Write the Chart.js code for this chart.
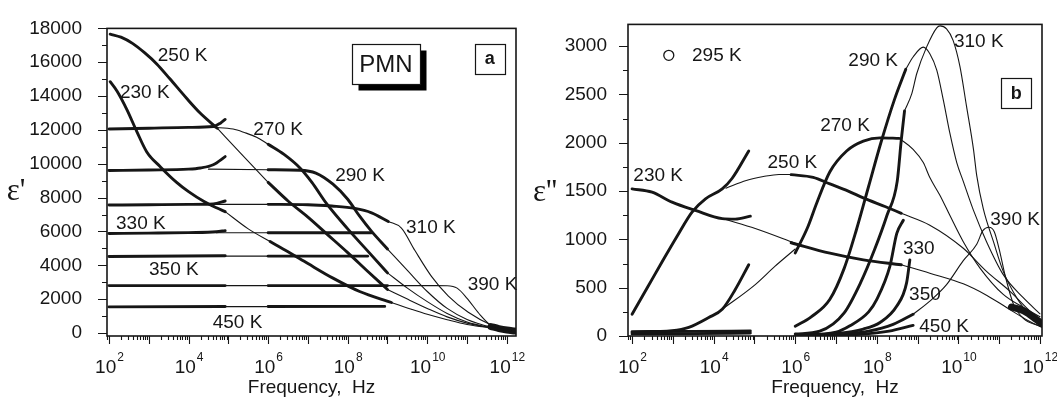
<!DOCTYPE html>
<html>
<head>
<meta charset="utf-8">
<title>PMN dielectric spectra</title>
<script src="https://cdn.jsdelivr.net/npm/chart.js@4.4.1/dist/chart.umd.min.js"></script>
<style>
html, body { margin: 0; padding: 0; background: #fff; }
#wrap { position: relative; width: 1057px; height: 400px; }
#chartA { position: absolute; left: 0; top: 0; }
#chartB { position: absolute; left: 530px; top: 0; }
</style>
</head>
<body>
<div id="wrap">
    <canvas id="chartA" width="530" height="400"></canvas>
    <canvas id="chartB" width="527" height="400"></canvas>
</div>
<script>
// Points are [log10(frequency / Hz), value]

// ---- Panel a : eps' ----
var epsA_230_lf = [[2.03,14850],[2.2,14300],[2.45,13200],[2.7,11900],[2.95,10700],[3.3,9800],[3.7,8900],[4.0,8350],[4.4,7750],[4.7,7400],[4.92,7170]];
var fitA_230_gap = [[4.92,7170],[5.5,6150],[6.05,5400]];
var epsA_230_mf = [[6.05,5400],[6.5,4800],[7.0,4100],[7.63,3240],[8.3,2450],[9.1,1800]];
var fitA_230_hf = [[9.1,1800],[9.6,1400],[10.0,1100],[10.5,780],[11.0,500],[11.7,270],[12.1,130]];

var epsA_250_lf = [[2.03,17660],[2.3,17480],[2.6,17100],[2.9,16550],[3.2,15900],[3.53,15020],[3.95,13870],[4.29,13000],[4.72,12100]];
var fitA_250_gap = [[4.72,12100],[5.3,10650],[6.0,8900]];
var epsA_250_mf = [[6.0,8900],[6.5,7800],[7.0,6850],[7.5,5800],[8.0,4750],[8.5,3650],[9.0,2570]];
var fitA_250_hf = [[9.0,2570],[9.5,2000],[10.0,1450],[10.5,950],[11.0,580],[11.6,300],[12.1,130]];

var epsA_270_lf = [[2.0,12050],[3.0,12100],[4.0,12150],[4.62,12200],[4.8,12400],[4.92,12620]];
var fitA_270_gap = [[4.62,12150],[5.12,12050],[5.4,11850],[5.71,11570],[6.0,11150]];
var epsA_270_mf = [[6.0,11150],[6.4,10550],[6.8,9750],[7.1,8900],[7.47,7640],[8.0,6150],[8.5,4850],[9.0,3550]];
var fitA_270_hf = [[9.0,3550],[9.5,2650],[10.0,1850],[10.5,1150],[11.0,650],[11.6,320],[12.1,130]];

var epsA_290_lf = [[2.0,9600],[3.0,9630],[4.0,9680],[4.3,9750],[4.62,9940],[4.92,10420]];
var fitA_290_gap = [[4.5,9680],[6.0,9650]];
var epsA_290_mf = [[6.0,9650],[6.8,9620],[7.2,9450],[7.63,8790],[8.0,7900],[8.3,6900],[8.6,6000],[9.0,4960]];
var fitA_290_hf = [[9.0,4960],[9.5,3700],[10.0,2450],[10.5,1450],[11.0,800],[11.6,350],[12.1,130]];

var epsA_310_lf = [[2.0,7560],[3.0,7580],[4.0,7600],[4.62,7620],[4.92,7800]];
var fitA_310_gap = [[4.6,7600],[6.0,7600]];
var epsA_310_mf = [[6.0,7600],[7.0,7580],[7.6,7500],[8.18,7360],[8.6,7100],[9.02,6590]];
var fitA_310_hf = [[9.02,6590],[9.35,6200],[9.69,4870],[10.11,3330],[10.53,2180],[11.03,1220],[11.62,460],[12.1,150]];

var epsA_330_lf = [[2.0,5880],[3.0,5900],[4.0,5930],[4.7,5980],[4.92,6050]];
var fitA_330_gap = [[4.7,5920],[6.0,5920]];
var epsA_330_mf = [[6.0,5920],[8.6,5920]];

var epsA_350_lf = [[2.0,4520],[4.92,4560]];
var fitA_350_gap = [[4.92,4540],[6.0,4540]];
var epsA_350_mf = [[6.0,4540],[8.5,4540]];

var epsA_390_lf = [[2.0,2800],[4.92,2800]];
var fitA_390_gap = [[4.92,2800],[6.0,2800]];
var epsA_390_mf = [[6.0,2800],[9.0,2800]];
var fitA_390_hf = [[9.0,2800],[10.2,2800],[10.5,2790],[10.75,2650],[11.0,2050],[11.3,1150],[11.6,450],[12.1,120]];

var epsA_450_lf = [[2.0,1540],[4.92,1560]];
var fitA_450_gap = [[4.92,1555],[6.0,1555]];
var epsA_450_mf = [[6.0,1560],[8.93,1570]];

var epsA_thz = [[11.6,380],[11.8,260],[12.0,170],[12.2,110]];

// ---- Panel b : eps'' ----
var epsB_230_lf = [[2.0,1523],[2.49,1488],[2.98,1385],[3.55,1300],[4.21,1215],[4.53,1210],[4.9,1240]];
var fitB_230_gap = [[4.3,1205],[5.02,1113],[6.0,960]];
var epsB_230_mf = [[5.9,965],[6.85,857],[7.67,788],[8.6,737]];
var fitB_230_hf = [[8.6,737],[9.3,650],[10.12,540],[10.7,420],[11.2,290],[11.75,150],[12.05,90]];

var epsB_250_lf = [[2.0,225],[2.4,520],[2.74,771],[3.1,1030],[3.47,1283],[3.8,1420],[4.21,1523],[4.45,1630],[4.86,1915]];
var fitB_250_gap = [[4.3,1530],[4.8,1610],[5.22,1650],[5.6,1672],[6.0,1670]];
var epsB_250_mf = [[5.9,1670],[6.44,1642],[6.85,1574],[7.3,1500],[7.67,1430],[8.2,1340],[8.6,1270]];
var fitB_250_hf = [[8.6,1270],[9.3,1147],[10.12,908],[10.69,669],[11.26,464],[11.75,259],[12.05,150]];

var epsB_270_lf = [[2.0,38],[2.98,54],[3.39,89],[3.88,191],[4.21,276],[4.53,481],[4.86,737]];
var fitB_270_gap = [[4.21,276],[5.02,532],[5.5,720],[6.0,900]];
var epsB_270_mf = [[6.0,860],[6.3,1120],[6.53,1380],[6.85,1700],[7.26,1915],[7.67,2017],[8.08,2051],[8.55,2045]];
var fitB_270_hf = [[8.55,2045],[8.89,1932],[9.14,1795],[9.3,1640],[9.55,1454],[9.79,1249],[10.12,976],[10.53,703],[11.1,430],[11.6,294],[12.0,200]];

var epsB_290_lf = [[2.0,45],[3.5,48],[4.9,52]];
var epsB_290_mf = [[6.0,100],[6.4,200],[6.85,380],[7.2,700],[7.5,1100],[7.8,1550],[8.1,2000],[8.43,2444],[8.71,2760]];
var fitB_290_hf = [[8.71,2760],[8.89,2888],[9.14,2990],[9.3,2922],[9.47,2751],[9.63,2444],[9.79,2102],[9.96,1795],[10.12,1600],[10.37,1300],[10.69,976],[11.1,635],[11.59,396],[12.0,230]];

var epsB_310_lf = [[2.0,22],[3.5,25],[4.9,30]];
var epsB_310_mf = [[6.0,20],[6.6,50],[7.2,240],[7.6,550],[7.95,900],[8.25,1250],[8.5,1600],[8.6,2030],[8.68,2330]];
var fitB_310_hf = [[8.68,2330],[8.86,2512],[8.98,2717],[9.22,2990],[9.47,3190],[9.55,3210],[9.71,3178],[9.87,3059],[10.04,2785],[10.2,2376],[10.37,1932],[10.45,1659],[10.61,1318],[10.86,976],[11.1,669],[11.43,396],[11.67,259],[12.0,180]];

var epsB_330_mf = [[6.0,8],[7.0,40],[7.34,106],[7.8,250],[8.0,379],[8.32,720],[8.49,1062],[8.65,1198]];
var epsB_350_mf = [[6.0,5],[7.0,25],[7.67,72],[8.08,140],[8.49,310],[8.73,550],[8.81,788]];
var epsB_390_mf = [[6.0,4],[7.0,15],[7.8,50],[8.4,120],[8.89,225]];
var fitB_390_hf = [[8.89,225],[9.3,361],[9.71,532],[10.12,780],[10.45,950],[10.6,1090],[10.75,1125],[10.88,1080],[11.0,900],[11.15,620],[11.35,330],[11.6,180],[12.0,100]];
var epsB_450_mf = [[6.0,2],[7.5,15],[8.3,50],[8.89,110]];

var epsB_thz = [[11.3,300],[11.6,260],[11.9,175],[12.05,125]];

// Decades that carry a "10^n" label
var labelDecades = [2, 4, 6, 8, 10, 12];
var yTicksA = [0, 2000, 4000, 6000, 8000, 10000, 12000, 14000, 16000, 18000];
var yTicksB = [0, 500, 1000, 1500, 2000, 2500, 3000];

// Curve labels [text, log10(f), value]
var tempLabelsA = [
    ['250 K', 3.85, 16380], ['230 K', 2.90, 14200], ['270 K', 6.25, 11980],
    ['290 K', 8.31, 9280], ['310 K', 10.09, 6240], ['330 K', 2.80, 6440],
    ['350 K', 3.63, 3710], ['390 K', 11.64, 2820], ['450 K', 5.23, 600]
];
var tempLabelsB = [
    ['230 K', 2.64, 1660], ['250 K', 5.93, 1795], ['270 K', 7.22, 2180],
    ['290 K', 7.91, 2850], ['310 K', 10.50, 3050], ['390 K', 11.39, 1200],
    ['330', 9.03, 900], ['350', 9.18, 425], ['450 K', 9.65, 97]
];

var INK = '#161616';
var FONT = '"Liberation Sans", Arial, sans-serif';
var FS = 19;

function toPts(arr) {
    return arr.map(function(p) { return { x: Math.pow(10, p[0]), y: p[1] }; });
}

function line(arr, width) {
    return {
        data: toPts(arr),
        borderColor: INK,
        borderWidth: width,
        pointRadius: 0,
        fill: false,
        cubicInterpolationMode: 'monotone',
        borderCapStyle: 'round',
        borderJoinStyle: 'round'
    };
}
function thin(arr) { return line(arr, 1.1); }
function thick(arr) { return line(arr, 2.9); }

// Frame, tick marks, 10^n labels, y title and annotations
function decoPlugin(cfg) {
    return {
        id: 'deco',
        afterDraw: function(chart) {
            var ctx = chart.ctx;
            var area = chart.chartArea;
            var xs = chart.scales.x;
            var ys = chart.scales.y;
            ctx.save();

            // frame
            ctx.strokeStyle = INK;
            ctx.lineWidth = 1.6;
            ctx.strokeRect(area.left, area.top, area.right - area.left, area.bottom - area.top);

            // ticks
            ctx.lineWidth = 1.1;
            ctx.beginPath();
            for (var d = 1; d <= 12; d++) {
                for (var k = 1; k <= 9; k++) {
                    var v = k * Math.pow(10, d);
                    if (v < xs.min || v > xs.max * 1.0001) continue;
                    var px = Math.round(xs.getPixelForValue(v)) + 0.5;
                    var len = (k === 1) ? 8 : 4;
                    ctx.moveTo(px, area.bottom);
                    ctx.lineTo(px, area.bottom + len);
                }
            }
            for (var yv = 0; yv <= ys.max + 0.1; yv += cfg.yMinor) {
                var py = Math.round(ys.getPixelForValue(yv)) + 0.5;
                var ylen = (Math.abs(yv % cfg.yMajor) < 1e-6) ? 9 : 5;
                ctx.moveTo(area.left, py);
                ctx.lineTo(area.left - ylen, py);
            }
            ctx.stroke();

            // x labels 10^n
            ctx.fillStyle = INK;
            ctx.textBaseline = 'alphabetic';
            ctx.textAlign = 'left';
            labelDecades.forEach(function(n) {
                var x = xs.getPixelForValue(Math.pow(10, n));
                ctx.font = FS + 'px ' + FONT;
                var wBase = ctx.measureText('10').width;
                ctx.font = '12px ' + FONT;
                var wExp = ctx.measureText(String(n)).width;
                var x0 = x - (wBase + wExp) / 2;
                ctx.font = FS + 'px ' + FONT;
                ctx.fillText('10', x0, cfg.xLabelBase);
                ctx.font = '12px ' + FONT;
                ctx.fillText(String(n), x0 + wBase + 1, cfg.xLabelBase - 12);
            });

            // y title
            ctx.font = '31px "Liberation Serif", "DejaVu Serif", serif';
            ctx.textAlign = 'center';
            ctx.textBaseline = 'middle';
            ctx.fillText(cfg.yTitle, cfg.yTitleX, cfg.yTitleY);

            // temperature labels
            ctx.font = FS + 'px ' + FONT;
            cfg.labels.forEach(function(l) {
                ctx.fillText(l[0], xs.getPixelForValue(Math.pow(10, l[1])), ys.getPixelForValue(l[2]));
            });

            // boxes
            cfg.boxes.forEach(function(b) {
                var cx = xs.getPixelForValue(Math.pow(10, b.x));
                var cy = ys.getPixelForValue(b.y);
                var x0 = Math.round(cx - b.w / 2) + 0.5, y0 = Math.round(cy - b.h / 2) + 0.5;
                if (b.shadow) {
                    ctx.fillStyle = '#000';
                    ctx.fillRect(x0 + b.shadow, y0 + b.shadow, b.w, b.h);
                }
                ctx.fillStyle = '#fff';
                ctx.fillRect(x0, y0, b.w, b.h);
                ctx.strokeStyle = INK;
                ctx.lineWidth = 1.2;
                ctx.strokeRect(x0, y0, b.w, b.h);
                ctx.fillStyle = INK;
                ctx.font = b.font;
                ctx.fillText(b.text, cx, cy + 1);
            });

            // open-circle legend
            if (cfg.circle) {
                var c = cfg.circle;
                ctx.lineWidth = 1.3;
                ctx.beginPath();
                ctx.arc(xs.getPixelForValue(Math.pow(10, c.x)), ys.getPixelForValue(c.y), 5, 0, Math.PI * 2);
                ctx.stroke();
                ctx.textAlign = 'left';
                ctx.font = FS + 'px ' + FONT;
                ctx.fillText(c.text, xs.getPixelForValue(Math.pow(10, c.tx)), ys.getPixelForValue(c.y));
            }
            ctx.restore();
        }
    };
}

function makeChart(id, datasets, opt) {
    return new Chart(document.getElementById(id), {
        type: 'line',
        data: { datasets: datasets },
        options: {
            responsive: false,
            animation: false,
            layout: { padding: opt.padding },
            plugins: { legend: { display: false }, tooltip: { enabled: false } },
            scales: {
                x: {
                    type: 'logarithmic',
                    min: opt.xMin,
                    max: opt.xMax,
                    grid: { display: false },
                    border: { display: false },
                    ticks: { display: false },
                    title: {
                        display: true,
                        text: 'Frequency,  Hz',
                        color: INK,
                        font: { family: FONT, size: FS },
                        padding: { top: 0, bottom: 1 }
                    },
                    afterFit: function(scale) { scale.height = 64; }
                },
                y: {
                    type: 'linear',
                    min: opt.yMin,
                    max: opt.yMax,
                    grid: { display: false },
                    border: { display: false },
                    afterBuildTicks: function(scale) {
                        scale.ticks = opt.yTicks.map(function(v) { return { value: v }; });
                    },
                    ticks: {
                        color: INK,
                        padding: opt.yPad,
                        font: { family: FONT, size: FS },
                        callback: function(v) { return String(v); }
                    },
                    afterFit: function(scale) { scale.width = opt.yWidth; }
                }
            }
        },
        plugins: [decoPlugin(opt.deco)]
    });
}

// Panel a
makeChart('chartA', [
    thin(fitA_230_gap), thin(fitA_230_hf), thin(fitA_250_gap), thin(fitA_250_hf),
    thin(fitA_270_gap), thin(fitA_270_hf), thin(fitA_290_gap), thin(fitA_290_hf),
    thin(fitA_310_gap), thin(fitA_310_hf), thin(fitA_330_gap), thin(fitA_350_gap),
    thin(fitA_390_gap), thin(fitA_390_hf), thin(fitA_450_gap),
    thick(epsA_230_lf), thick(epsA_230_mf), thick(epsA_250_lf), thick(epsA_250_mf),
    thick(epsA_270_lf), thick(epsA_270_mf), thick(epsA_290_lf), thick(epsA_290_mf),
    thick(epsA_310_lf), thick(epsA_310_mf), thick(epsA_330_lf), thick(epsA_330_mf),
    thick(epsA_350_lf), thick(epsA_350_mf), thick(epsA_390_lf), thick(epsA_390_mf),
    thick(epsA_450_lf), thick(epsA_450_mf), line(epsA_thz, 7)
], {
    padding: { left: 0, right: 14, top: 20, bottom: 0 },
    xMin: Math.pow(10, 1.95), xMax: Math.pow(10, 12.23),
    yMin: -180, yMax: 18000, yTicks: yTicksA, yPad: 17, yWidth: 107,
    deco: {
        yMinor: 1000, yMajor: 2000, xLabelBase: 373,
        yTitle: "\u03b5'", yTitleX: 16, yTitleY: 192,
        labels: tempLabelsA,
        boxes: [
            { text: 'PMN', x: 8.96, y: 15880, w: 68, h: 40, shadow: 6, font: '24px ' + FONT },
            { text: 'a', x: 11.57, y: 16220, w: 30, h: 30, shadow: 0, font: 'bold 18px ' + FONT }
        ]
    }
});

// Panel b
makeChart('chartB', [
    thin(fitB_230_gap), thin(fitB_230_hf), thin(fitB_250_gap), thin(fitB_250_hf),
    thin(fitB_270_gap), thin(fitB_270_hf), thin(fitB_290_hf), thin(fitB_310_hf),
    thin(fitB_390_hf),
    thick(epsB_230_lf), thick(epsB_230_mf), thick(epsB_250_lf), thick(epsB_250_mf),
    thick(epsB_270_lf), thick(epsB_270_mf), thick(epsB_290_lf), thick(epsB_290_mf),
    thick(epsB_310_lf), thick(epsB_310_mf), thick(epsB_330_mf), thick(epsB_350_mf),
    thick(epsB_390_mf), thick(epsB_450_mf), line(epsB_thz, 7)
], {
    padding: { left: 0, right: 15, top: 22, bottom: 0 },
    xMin: Math.pow(10, 1.9), xMax: Math.pow(10, 12.05),
    yMin: 0, yMax: 3225, yTicks: yTicksB, yPad: 13, yWidth: 98,
    deco: {
        yMinor: 250, yMajor: 500, xLabelBase: 373,
        yTitle: "\u03b5''", yTitleX: 15, yTitleY: 193,
        labels: tempLabelsB,
        boxes: [
            { text: 'b', x: 11.42, y: 2512, w: 30, h: 30, shadow: 0, font: 'bold 18px ' + FONT }
        ],
        circle: { x: 2.9, tx: 3.47, y: 2905, text: '295 K' }
    }
});
</script>
</body>
</html>
